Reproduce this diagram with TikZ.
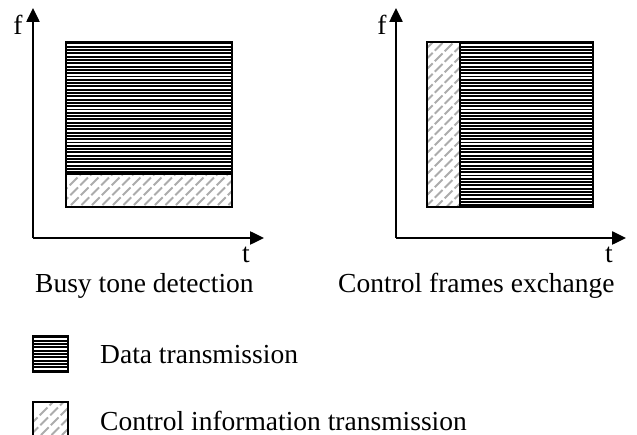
\documentclass[tikz,border=0pt]{standalone}
\usepackage{fontspec}
\setmainfont{Liberation Serif}
\usetikzlibrary{arrows.meta}
\begin{document}
\begin{tikzpicture}[x=1pt,y=-1pt,
  axis/.style={line width=2.5pt,-{Triangle[length=14pt,width=13pt]}},
  frame/.style={draw=black,line width=2.5pt},
  dataline/.style={black,line width=1.9pt},
  ctrlline/.style={gray!65,line width=1.8pt,dash pattern=on 11pt off 3pt},
  lbl/.style={font=\fontsize{27.5}{30}\selectfont,inner sep=0pt}
]
\useasboundingbox (0,0) rectangle (637,435);

% ---------- left panel: busy tone detection ----------
\coordinate (o1) at (33,238);
\coordinate (ytop1) at (33,8);
\coordinate (xend1) at (264,238);
\draw[axis] (o1) -- (ytop1);
\draw[axis] (o1) -- (xend1);
\node[lbl,anchor=base] (f1) at (18,35) {f};
\node[lbl,anchor=base] (t1) at (246,263) {t};

\coordinate (b1nw) at (66,42);
\coordinate (b1se) at (232,207);
\coordinate (b1split) at (232,174);
% data band
\begin{scope}
  \clip (66,42) rectangle (232,174);
  \foreach \k in {0,...,40} \draw[dataline] (66,{43.5+\k*3.3}) -- (232,{43.5+\k*3.3});
\end{scope}
% control band
\begin{scope}
  \clip (66,174) rectangle (232,207);
  \foreach \k in {0,...,22} \draw[ctrlline] ({40+\k*10.5},215) -- ({40+\k*10.5+45},170);
\end{scope}
\draw[frame] (b1nw) rectangle (b1se);
\draw[frame] (66,174) -- (b1split);
\node[lbl,anchor=base west] (cap1) at (35,293) {Busy tone detection};

% ---------- right panel: control frames exchange ----------
\coordinate (o2) at (396,238);
\coordinate (ytop2) at (396,8);
\coordinate (xend2) at (626,238);
\draw[axis] (o2) -- (ytop2);
\draw[axis] (o2) -- (xend2);
\node[lbl,anchor=base] (f2) at (382,35) {f};
\node[lbl,anchor=base] (t2) at (609,263) {t};

\coordinate (b2nw) at (427,42);
\coordinate (b2se) at (593,207);
\coordinate (b2split) at (460,42);
\begin{scope}
  \clip (460,42) rectangle (593,207);
  \foreach \k in {0,...,50} \draw[dataline] (460,{43.5+\k*3.3}) -- (593,{43.5+\k*3.3});
\end{scope}
\begin{scope}
  \clip (427,42) rectangle (460,207);
  \foreach \k in {0,...,22} \draw[ctrlline] (415,{60+\k*10.5}) -- (470,{60+\k*10.5-55});
\end{scope}
\draw[frame] (b2nw) rectangle (b2se);
\draw[frame] (b2split) -- (460,207);
\node[lbl,anchor=base west] (cap2) at (338,293) {Control frames exchange};

% ---------- legend ----------
\begin{scope}
  \clip (33,336) rectangle (68,372);
  \foreach \k in {0,...,11} \draw[dataline] (33,{337.5+\k*3.3}) -- (68,{337.5+\k*3.3});
\end{scope}
\draw[frame] (33,336) rectangle (68,372);
\node[lbl,anchor=base west] (leg1) at (100,363) {Data transmission};

\begin{scope}
  \clip (33,402) rectangle (68,438);
  \foreach \k in {0,...,8} \draw[ctrlline] ({10+\k*10.5},445) -- ({10+\k*10.5+45},400);
\end{scope}
\draw[frame] (33,402) rectangle (68,438);
\node[lbl,anchor=base west] (leg2) at (100,430) {Control information transmission};
\end{tikzpicture}
\end{document}
